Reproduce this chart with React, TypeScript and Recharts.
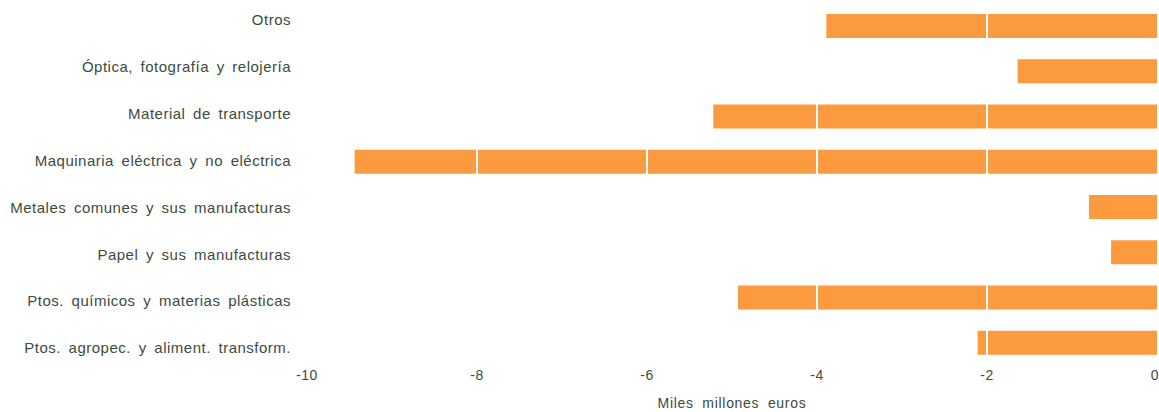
import React from 'react'
import { BarChart, Bar, XAxis, YAxis, ReferenceLine } from 'recharts'

const categories = [
  'Otros',
  'Óptica, fotografía y relojería',
  'Material de transporte',
  'Maquinaria eléctrica y no eléctrica',
  'Metales comunes y sus manufacturas',
  'Papel y sus manufacturas',
  'Ptos. químicos y materias plásticas',
  'Ptos. agropec. y aliment. transform.',
]
const values = [-3.89, -1.64, -5.22, -9.44, -0.8, -0.54, -4.93, -2.11]
const xTicks = [-10, -8, -6, -4, -2, 0]
const gridLines = [-8, -6, -4, -2]

const data = categories.map((name, i) => ({ name, value: values[i] }))

const textColor = '#3c4b3e'
const font = '"Liberation Sans", Arial, sans-serif'
const textStyle = { fontFamily: font, fontSize: 14, letterSpacing: 0.7, wordSpacing: 4 }
const categoryStyle = { fontFamily: font, fontSize: 15, letterSpacing: 0.5, wordSpacing: 3 }

// labels in the source are spread a bit wider than the bar rows
const CategoryTick = (props: any) => {
  const { x, y, payload, index } = props
  const shift = (index - (categories.length - 1) / 2) * 1.6
  return (
    <text x={x} y={y + shift} dy="0.35em" textAnchor="end" fill={textColor} style={categoryStyle}>
      {payload.value}
    </text>
  )
}

const ValueTick = (props: any) => {
  const { x, y, payload } = props
  return (
    <text x={x} y={y} dy="0.71em" textAnchor="middle" fill={textColor} style={{ ...textStyle, letterSpacing: 0.5 }}>
      {payload.value}
    </text>
  )
}

export default function App() {
  return (
    <div style={{ position: 'fixed', left: 0, top: 0, width: 1159, height: 412, background: '#fff' }}>
      <BarChart
        width={1159}
        height={412}
        data={data}
        layout="vertical"
        margin={{ top: 3, right: 2, bottom: 0, left: 0 }}
        barCategoryGap={21}
      >
        <XAxis
          type="number"
          domain={[-10, 0]}
          ticks={xTicks}
          axisLine={false}
          tickLine={false}
          tickSize={0}
          tickMargin={5}
          height={47}
          tick={<ValueTick />}
          label={{
            content: ({ viewBox }: any) => (
              <text
                x={viewBox.x + viewBox.width / 2}
                y={viewBox.y + viewBox.height - 4}
                textAnchor="middle"
                fill={textColor}
                style={textStyle}
              >
                Miles millones euros
              </text>
            ),
          }}
        />
        <YAxis
          type="category"
          dataKey="name"
          width={307}
          axisLine={false}
          tickLine={false}
          tickSize={0}
          tickMargin={16}
          interval={0}
          tick={<CategoryTick />}
        />
        <Bar dataKey="value" fill="#fc9a40" barSize={24} isAnimationActive={false} />
        {gridLines.map((x) => (
          <ReferenceLine key={x} x={x} stroke="#ffffff" strokeWidth={2} />
        ))}
      </BarChart>
    </div>
  )
}
